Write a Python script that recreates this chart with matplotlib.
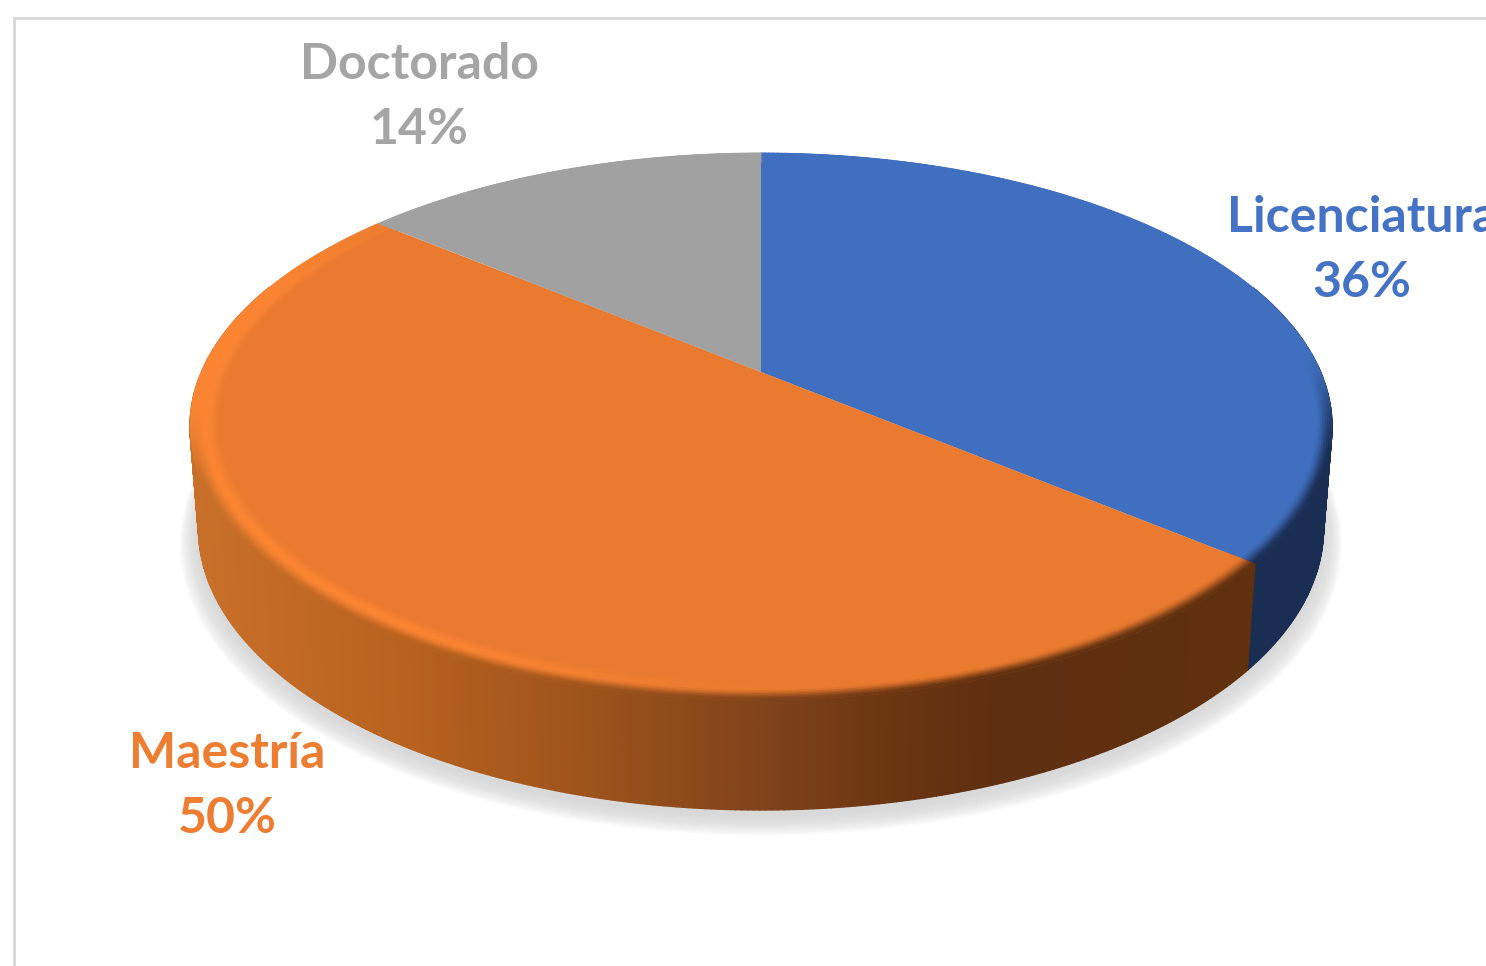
import numpy as np
import matplotlib
matplotlib.use("Agg")
import matplotlib.pyplot as plt
from matplotlib.collections import PolyCollection
from matplotlib.colors import to_rgb
from matplotlib.patches import Polygon, Rectangle
from matplotlib.transforms import Transform

categories = ["Licenciatura", "Maestría", "Doctorado"]
values = [36, 50, 14]
top_colors = ["#3F6FBE", "#E97A2F", "#A1A1A1"]
text_colors = ["#4472C4", "#ED7D31", "#A5A5A5"]
rim_colors = ["#4A7BCC", "#FB8533", "#A5A5A5"]
label_pos = [(1362, 250), (227, 786), (419, 97)]

CX, CY, A, B, K = 761.0, 372.0, 559.6, 262.7, 0.199


class Perspective(Transform):
    input_dims = 2
    output_dims = 2
    is_separable = False
    has_inverse = False

    def transform_non_affine(self, values):
        v = np.asarray(values, float)
        d = 1 + K * v[:, 1]
        return np.column_stack((CX + A * v[:, 0] / d, CY - B * v[:, 1] / d))


proj = Perspective()


def rim(theta, r=1.0):
    t = np.radians(theta)
    return proj.transform_non_affine(np.column_stack((r * np.sin(t), r * np.cos(t))))


def bottom(theta, r=1.0):
    p = rim(theta, r)
    y = r * np.cos(np.radians(theta))
    p[:, 0] = CX + (p[:, 0] - CX) * 0.985
    p[:, 1] += 100 - 10 * y
    return p


def smooth(x, a, b):
    s = np.clip((np.asarray(x, float) - a) / (b - a), 0, 1)
    return s * s * (3 - 2 * s)


def side_rgb(i, px):
    if i == 0:
        return np.array(to_rgb("#1A2D52"))
    xs = [197, 400, 600, 760, 900, 1000, 1250]
    cs = np.array([to_rgb(c) for c in
                   ["#C8702A", "#B8621F", "#9B521C", "#80431A", "#6A3512", "#5E2F10", "#60300F"]])
    return np.array([np.interp(px, xs, cs[:, k]) for k in range(3)])


fig = plt.figure(figsize=(14.86, 9.66), dpi=100, facecolor="white")
ax = fig.add_axes([0, 0, 1, 1])

wedges, _ = ax.pie(values, colors=top_colors, startangle=90, counterclock=False,
                   wedgeprops=dict(linewidth=0, zorder=5))
for w in wedges:
    w.set_transform(proj + ax.transData)
ax.set_aspect("auto")
ax.set_xlim(0, 1486)
ax.set_ylim(966, 0)
ax.set_axis_off()

# chart frame
ax.add_patch(Rectangle((14, 18), 1600, 1100, fc="white", ec="#D9D9D9", lw=2.2, zorder=0))

# soft shadow under the disc
th_all = np.linspace(0, 360, 361)
layers = 22
for j in range(layers):
    f = j / (layers - 1)
    pts = bottom(th_all, 1.0 + 0.032 * (1 - f))
    pts[:, 1] += 6 + 6 * (1 - f)
    ax.add_patch(Polygon(pts, closed=True, fc="#D2D2D2", ec="none", alpha=0.06, zorder=1))

edges = np.concatenate(([0], np.cumsum(values))) / np.sum(values) * 360.0

# side wall and bevel
polys, cols, bpolys, bcols = [], [], [], []
R_IN = 0.945
n_r = 14
for i in range(len(values)):
    t1, t2 = edges[i], edges[i + 1]
    th = np.arange(t1, t2 + 0.5, 0.5)
    th[-1] = t2
    top_c = np.array(to_rgb(top_colors[i]))
    hi_c = np.array(to_rgb(rim_colors[i]))
    for a, b in zip(th[:-1], th[1:]):
        m = 0.5 * (a + b)
        px = rim(np.array([m]))[0, 0]
        vis = smooth(m, 85, 108) * (1 - smooth(m, 245, 264))
        sc = side_rgb(i, px)
        if 70 < m < 290:
            q = np.vstack((rim(np.array([a, b])), bottom(np.array([b, a]))))
            polys.append(q)
            cols.append(sc)
        hl = smooth(m, 170, 215) * (1 - smooth(m, 285, 325))
        for k in range(n_r):
            r0 = R_IN + (1 - R_IN) * k / n_r
            r1 = R_IN + (1 - R_IN) * (k + 1) / n_r
            tc = (k + 0.5) / n_r
            mid = top_c + (hi_c - top_c) * hl
            if tc < 0.5:
                c = top_c + (mid - top_c) * smooth(tc, 0, 0.5)
            else:
                c = mid + (sc - mid) * vis * smooth(tc, 0.5, 1.0)
            bpolys.append(np.vstack((rim(np.array([a, b]), r0), rim(np.array([b, a]), r1))))
            bcols.append(c)

ax.add_collection(PolyCollection(polys, facecolors=cols, edgecolors=cols, linewidths=1.0, zorder=2))
ax.add_collection(PolyCollection(bpolys, facecolors=bcols, edgecolors=bcols, linewidths=0.5, zorder=6))

# data labels
for cat, val, col, (x, y) in zip(categories, values, text_colors, label_pos):
    ax.text(x, y, f"{cat}\n{val}%", color=col, ha="center", va="center", family="Lato",
            fontweight="bold", fontsize=36, linespacing=1.55, zorder=8)

fig.savefig("out.png", dpi=100, facecolor="white")
